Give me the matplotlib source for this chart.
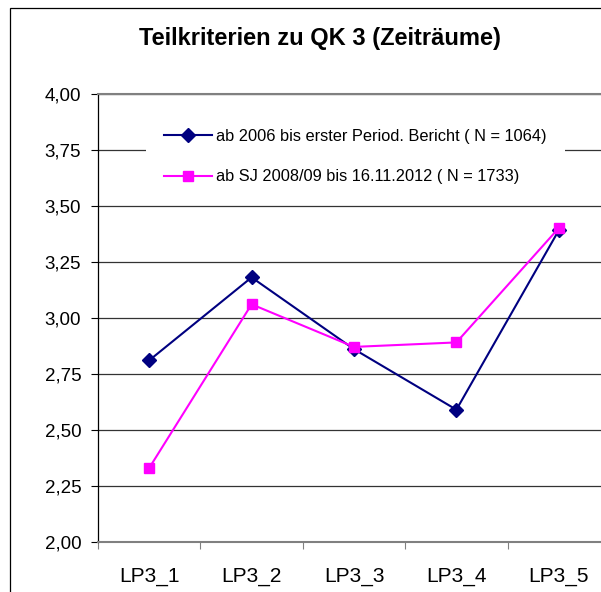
import matplotlib as mpl
mpl.use('agg')
import matplotlib.pyplot as plt
from matplotlib.patches import Rectangle

## data
categories = ['LP3_1', 'LP3_2', 'LP3_3', 'LP3_4', 'LP3_5']
series_2006 = [2.81, 3.18, 2.86, 2.59, 3.39]
series_2008 = [2.33, 3.06, 2.87, 2.89, 3.40]
label_2006 = 'ab 2006 bis erster Period. Bericht ( N = 1064)'
label_2008 = 'ab SJ 2008/09 bis 16.11.2012 ( N = 1733)'
y_ticks = [2.00, 2.25, 2.50, 2.75, 3.00, 3.25, 3.50, 3.75, 4.00]

plt.rcParams['font.family'] = ['Liberation Sans', 'DejaVu Sans']

fig = plt.figure(figsize=(6.01, 5.92), dpi=100)
# plot area runs past the right edge, like the cropped original
ax = fig.add_axes([98 / 601, 1 - 542 / 592, 512 / 601, 448.5 / 592])

x = list(range(1, len(categories) + 1))
ax.plot(x, series_2006, color='#000080', linewidth=1.5, marker='D',
        markersize=7.5, label=label_2006, zorder=3)
ax.plot(x, series_2008, color='#FF00FF', linewidth=1.5, marker='s',
        markersize=7.5, label=label_2008, zorder=3)

ax.set_xlim(0.5, len(categories) + 0.5)
ax.set_ylim(2.0, 4.0)

## y axis
ax.set_yticks(y_ticks)
ax.set_yticklabels([('%.2f' % v).replace('.', ',') for v in y_ticks], fontsize=13.5)
ax.tick_params(axis='y', direction='out', length=5, width=0.8, color='black', pad=7)
ax.yaxis.grid(True, color='#333333', linewidth=0.9)
ax.set_axisbelow(True)

## x axis: labels in the middle, tick marks on category borders
ax.set_xticks(x)
ax.set_xticklabels(categories, fontsize=15)
ax.tick_params(axis='x', which='major', length=0, pad=18)
ax.set_xticks([i + 0.5 for i in range(0, len(categories) + 1)], minor=True)
ax.tick_params(axis='x', which='minor', direction='out', length=5, width=0.8, color='#808080')

for side in ['top', 'bottom']:
    ax.spines[side].set_color('#808080')
    ax.spines[side].set_linewidth(1.5)
ax.spines['left'].set_color('black')
ax.spines['left'].set_linewidth(0.9)
ax.spines['right'].set_visible(False)

leg = ax.legend(loc='upper left', bbox_to_anchor=(146 / 601, 1 - 111 / 592),
                bbox_transform=fig.transFigure, borderaxespad=0, borderpad=1.1,
                fontsize=11.8, handlelength=2.9, handletextpad=0.3,
                labelspacing=1.55, fancybox=False, framealpha=1)
leg.get_frame().set_edgecolor('none')
leg.get_frame().set_facecolor('white')

## title
fig.text(320 / 601, 1 - 45 / 592, 'Teilkriterien zu QK 3 (Zeiträume)',
         ha='center', va='baseline', fontsize=17, fontweight='bold')

## outer chart border
fig.patches.append(Rectangle((10.5 / 601, -0.1), 1.2, 1.1 - 7.5 / 592,
                             transform=fig.transFigure, fill=False,
                             edgecolor='black', linewidth=0.9))

fig.savefig('out.png', dpi=100)
